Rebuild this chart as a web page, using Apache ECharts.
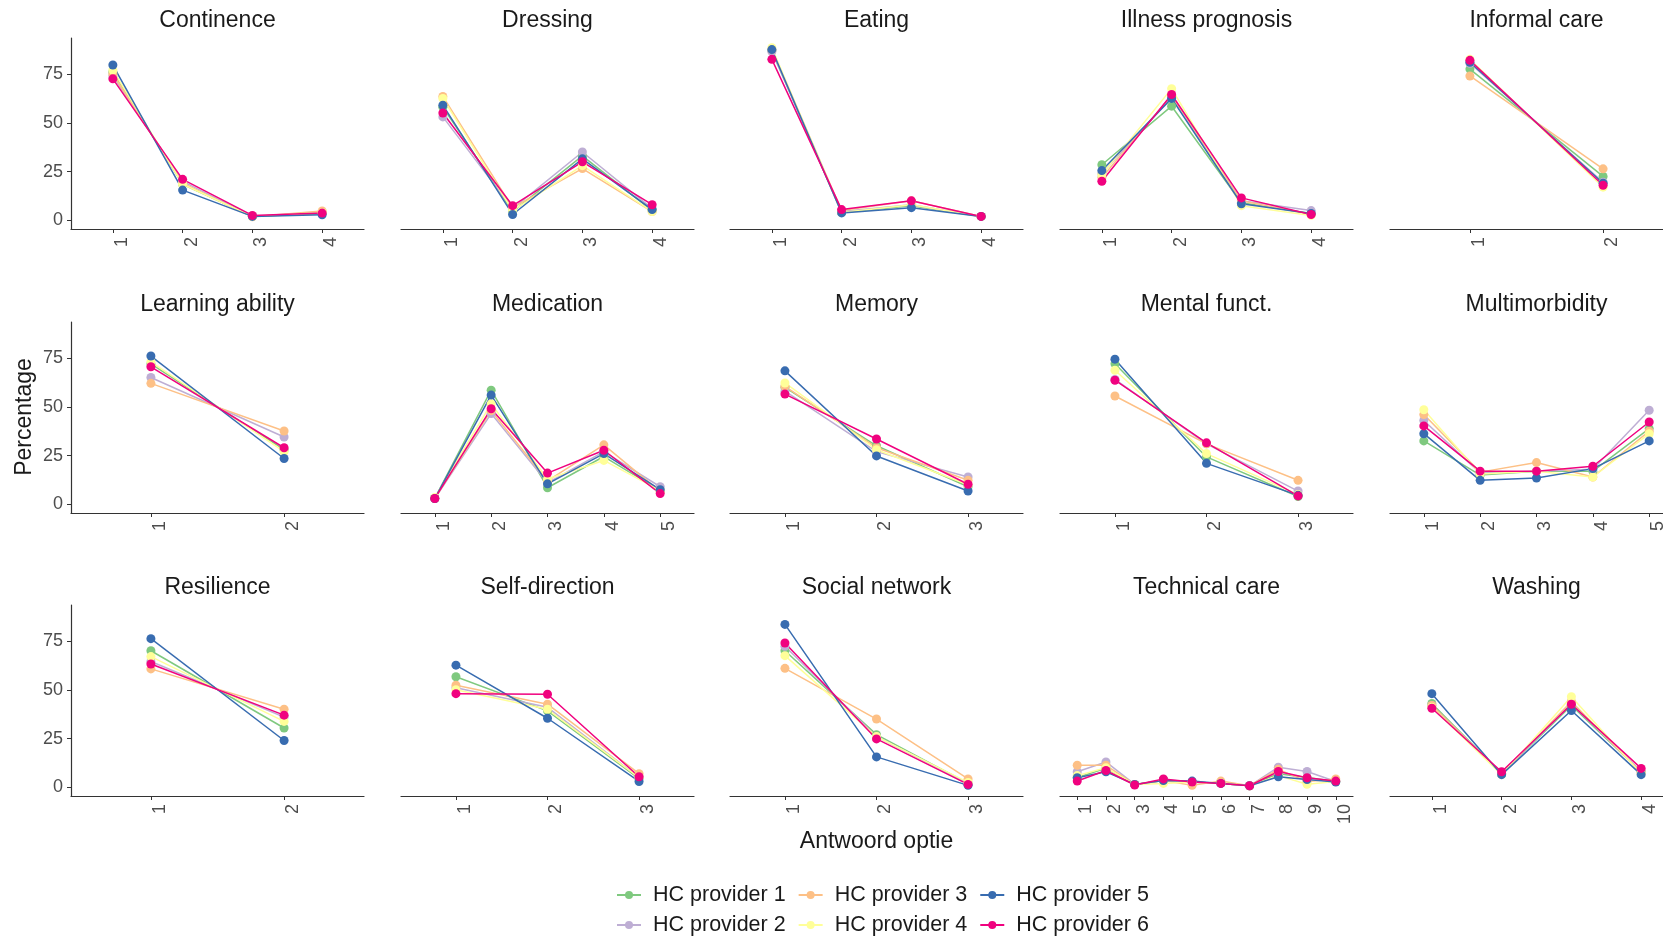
<!DOCTYPE html>
<html>
<head>
<meta charset="utf-8">
<script src="https://cdn.jsdelivr.net/npm/echarts@6/dist/echarts.min.js"></script>
<style>
  html, body { margin: 0; padding: 0; background: #fff; overflow: hidden; }
  #chart { width: 1700px; height: 938px; }
</style>
</head>
<body>
<div id="chart"></div>
<script>
// providers, colour per provider (Accent palette)
var providers = ['HC provider 1', 'HC provider 2', 'HC provider 3', 'HC provider 4', 'HC provider 5', 'HC provider 6'];
var colors = ['#7FC97F', '#BEAED4', '#FDC086', '#FFFF99', '#386CB0', '#F0027F'];

var facets = ['Continence', 'Dressing', 'Eating', 'Illness prognosis', 'Informal care',
  'Learning ability', 'Medication', 'Memory', 'Mental funct.', 'Multimorbidity',
  'Resilience', 'Self-direction', 'Social network', 'Technical care', 'Washing'];

var yTicks = [0, 25, 50, 75];

// percentage per answer option, one row per provider
var continence = [[76, 18.5, 2, 3.5], [74, 20, 2, 4], [75, 19, 1.8, 4.8], [77, 18.5, 2, 4], [79.6, 15.5, 2, 2.8], [72.5, 21, 2.5, 3.7]];
var dressing = [[58, 4.5, 33, 5], [53, 6, 35, 6], [63.5, 6.5, 26.5, 4.5], [62.5, 5, 28, 4.5], [59, 3, 31.5, 5.5], [55, 7.5, 30, 8]];
var eating = [[87, 4, 7.5, 2], [86.5, 4.5, 8, 2], [87.5, 5, 10, 2], [88.5, 4, 8, 2], [87.5, 3.8, 6.5, 2], [82.5, 5.5, 10, 2]];
var illness = [[28.5, 58.5, 9, 3.5], [24, 63, 10, 5], [22, 64, 10, 3], [23.5, 67.5, 7.5, 2.5], [25.5, 62.5, 8.5, 3.5], [20, 64.5, 11.5, 3]];
var informal = [[77.5, 22.5], [80.5, 19.5], [74, 26.4], [82.5, 17], [81, 19], [82, 18]];
var learning = [[72, 28], [65, 34.5], [62, 37.6], [73, 27], [76, 23.5], [70.5, 29]];
var medication = [[3, 58.5, 8.5, 24.5, 7], [3, 46.5, 11, 27, 9], [3, 48, 12, 30.5, 6.5], [3.5, 51.5, 13, 22.5, 7], [3, 56, 10.5, 26, 7.5], [3, 49, 16, 27.7, 5.5]];
var memory = [[60, 30, 9], [58, 27, 14], [60.5, 29, 12.3], [62.2, 28, 10], [68.4, 24.8, 6.8], [56.5, 33.5, 10.3]];
var mental = [[72, 24.3, 4], [64, 31, 6.8], [55.5, 31, 12.3], [68.7, 26, 5], [74.4, 21, 4.6], [63.6, 31.5, 4.3]];
var multimorbidity = [[32.5, 15, 17, 17, 38.8], [43, 16, 17, 18, 48.2], [46, 16.5, 21.4, 14, 37.5], [48.5, 15.5, 17, 14, 36.2], [36.2, 12.3, 13.5, 18.3, 32.5], [40.2, 17, 17, 19.5, 42.2]];
var resilience = [[70, 30.4], [64.5, 36], [60.7, 40], [67, 33.8], [76.2, 24], [63.2, 37]];
var selfDirection = [[56.7, 39.2, 4.5], [51, 41, 5], [52.3, 42.6, 7], [50, 40, 5], [62.6, 35.4, 3], [48, 47.7, 5.4]];
var socialNetwork = [[70, 27, 2], [72.3, 26, 2], [61, 35, 4.3], [67.5, 26, 2.5], [83.5, 15.6, 1], [74, 24.8, 1.5]];
var technical = [[5, 9.7, 1.5, 3.5, 2.7, 2, 0.8, 7, 5, 3], [8, 13, 1.5, 3.5, 2.7, 2, 0.8, 10.3, 8.1, 3], [11.3, 11.3, 1.5, 3.5, 1, 3.2, 0.8, 9.2, 3, 4.3],
  [6, 10, 1.5, 2, 2.7, 2, 0.8, 6, 1.6, 3], [4.9, 8, 1.5, 3.5, 3.2, 2, 0.8, 5.4, 4, 2.7], [3.2, 8.6, 1.2, 4.3, 2.7, 2, 0.8, 8.1, 4.9, 3.2]];
var washing = [[43, 7, 42, 8], [42, 7, 43, 8], [42, 7, 44, 7.5], [41, 6.5, 46.4, 7], [48, 6.5, 39.4, 6.5], [40.5, 8, 42.6, 9.7]];

var facetData = [continence, dressing, eating, illness, informal, learning, medication, memory, mental,
  multimorbidity, resilience, selfDirection, socialNetwork, technical, washing];

var font = 'Liberation Sans, Arial, sans-serif';
var colLeft = [71, 401, 730, 1060, 1390];
var rowTop = [38, 322, 605];
var panelW = 293, panelH = 191;

var grids = [], xAxes = [], yAxes = [], titles = [], series = [];

facetData.forEach(function (rows, i) {
  var col = i % 5, row = Math.floor(i / 5);
  var n = rows[0].length;
  var opts = [];
  for (var k = 1; k <= n; k++) opts.push(k);

  grids.push({ left: colLeft[col], top: rowTop[row], width: panelW, height: panelH });
  titles.push({
    text: facets[i], left: colLeft[col] + panelW / 2, top: rowTop[row] - 29, textAlign: 'center', padding: 0,
    textStyle: { fontFamily: font, fontSize: 23, fontWeight: 'normal', color: '#1a1a1a' }
  });
  xAxes.push({
    type: 'value', gridIndex: i, min: 0.4, max: n + 0.6,
    axisLine: { onZero: false, lineStyle: { color: '#333', width: 1.2 } },
    axisTick: { customValues: opts, length: 4, lineStyle: { color: '#333' } },
    axisLabel: { customValues: opts, rotate: 90, verticalAlign: 'top', margin: 8, fontFamily: font, fontSize: 18, color: '#4d4d4d' },
    splitLine: { show: false }
  });
  yAxes.push({
    type: 'value', gridIndex: i, min: -4.45, max: 93.45, show: col === 0,
    axisLine: { show: true, onZero: false, lineStyle: { color: '#333', width: 1.2 } },
    axisTick: { show: true, customValues: yTicks, length: 4, lineStyle: { color: '#333' } },
    axisLabel: { customValues: yTicks, margin: 8, fontFamily: font, fontSize: 18, color: '#4d4d4d' },
    splitLine: { show: false }
  });
  rows.forEach(function (vals, p) {
    series.push({
      name: providers[p], type: 'line', xAxisIndex: i, yAxisIndex: i,
      data: vals.map(function (v, k) { return [k + 1, v]; }),
      symbol: 'circle', symbolSize: 9,
      itemStyle: { color: colors[p] },
      lineStyle: { color: colors[p], width: 1.5 },
      emphasis: { disabled: true }
    });
  });
});

titles.push({
  text: 'Antwoord optie', left: colLeft[2] + panelW / 2, top: 830, textAlign: 'center', padding: 0,
  textStyle: { fontFamily: font, fontSize: 23, fontWeight: 'normal', color: '#1a1a1a' }
});

var legendBase = {
  orient: 'horizontal', left: 616, padding: 0, itemWidth: 24, itemHeight: 10, itemGap: 12,
  textStyle: { fontFamily: font, fontSize: 21.5, color: '#1a1a1a', padding: [0, 0, 0, 7] }
};

var chart = echarts.init(document.getElementById('chart'));
chart.setOption({
  animation: false,
  backgroundColor: '#fff',
  title: titles,
  grid: grids,
  xAxis: xAxes,
  yAxis: yAxes,
  legend: [
    Object.assign({}, legendBase, { top: 884, data: [providers[0], providers[2], providers[4]] }),
    Object.assign({}, legendBase, { top: 914, data: [providers[1], providers[3], providers[5]] })
  ],
  graphic: [{
    type: 'text', x: 25, y: 417, rotation: Math.PI / 2,
    style: { text: 'Percentage', fontFamily: font, fontSize: 23, fill: '#1a1a1a', align: 'center', verticalAlign: 'middle' }
  }],
  series: series
});
</script>
</body>
</html>
